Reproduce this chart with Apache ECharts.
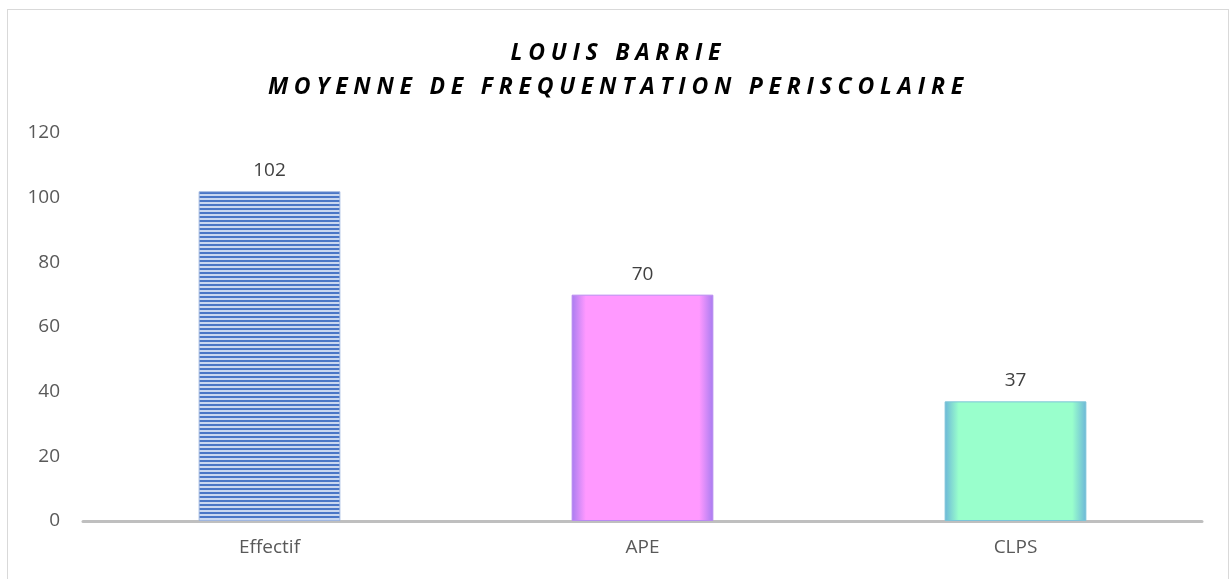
<!DOCTYPE html>
<html>
<head>
<meta charset="utf-8">
<script src="https://cdn.jsdelivr.net/npm/echarts@6/dist/echarts.min.js"></script>
<style>
  html, body { margin: 0; padding: 0; background: #fff; }
  #frame { position: absolute; left: 7px; top: 9px; width: 1222px; height: 575px; border: 1px solid #d9d9d9; box-sizing: border-box; }
  #chart { width: 1231px; height: 579px; }
</style>
</head>
<body>
<div id="frame"></div>
<div id="chart"></div>
<script>
// données
const titleLines = ['LOUIS BARRIE', 'MOYENNE DE FREQUENTATION PERISCOLAIRE'];
const categories = ['Effectif', 'APE', 'CLPS'];
const values = [102, 70, 37];
const yTicks = [0, 20, 40, 60, 80, 100, 120];

// espacement des lettres du titre
function spaced(s) {
    return s.split('').join('\u2005');
}

// motif rayé pour la barre "Effectif"
function stripes() {
    const c = document.createElement('canvas');
    c.width = 8; c.height = 4;
    const ctx = c.getContext('2d');
    ctx.fillStyle = '#c9d7f0';
    ctx.fillRect(0, 0, 8, 4);
    ctx.fillStyle = '#4a76c6';
    ctx.fillRect(0, 0, 8, 2);
    return c;
}

function edgeGradient(edge, fill) {
    return new echarts.graphic.LinearGradient(0, 0, 1, 0, [
        { offset: 0, color: edge },
        { offset: 0.1, color: fill },
        { offset: 0.9, color: fill },
        { offset: 1, color: edge }
    ]);
}

const styles = [
    { color: { image: stripes(), repeat: 'repeat' }, borderColor: '#9fb6e0', borderWidth: 1 },
    { color: edgeGradient('#a77cf0', '#ff99ff'), borderColor: '#b88af0', borderWidth: 1 },
    { color: edgeGradient('#6cb6d8', '#99ffcc'), borderColor: '#7cc4d8', borderWidth: 1 }
];

const labelFont = { color: '#595959', fontSize: 19, fontFamily: 'Open Sans' };

const chart = echarts.init(document.getElementById('chart'));
chart.setOption({
    animation: false,
    title: {
        text: titleLines.map(spaced).join('\n'),
        left: 'center',
        top: 31,
        textStyle: {
            fontFamily: 'Open Sans',
            fontSize: 23,
            fontWeight: 'bold',
            fontStyle: 'italic',
            color: '#000',
            lineHeight: 34
        }
    },
    grid: { left: 83, right: 29, top: 133, bottom: 58 },
    xAxis: {
        type: 'category',
        data: categories,
        axisLine: { lineStyle: { color: '#bfbfbf', width: 3 } },
        axisTick: { show: false },
        axisLabel: Object.assign({ margin: 17 }, labelFont)
    },
    yAxis: {
        type: 'value',
        min: yTicks[0],
        max: yTicks[yTicks.length - 1],
        interval: 20,
        splitLine: { show: false },
        axisLabel: Object.assign({ margin: 23 }, labelFont)
    },
    series: [{
        type: 'bar',
        barWidth: '38%',
        data: values.map((v, i) => ({ value: v, itemStyle: styles[i] })),
        label: {
            show: true,
            position: 'top',
            distance: 11,
            color: '#404040',
            fontSize: 19,
            fontFamily: 'Open Sans'
        }
    }]
});
</script>
</body>
</html>
